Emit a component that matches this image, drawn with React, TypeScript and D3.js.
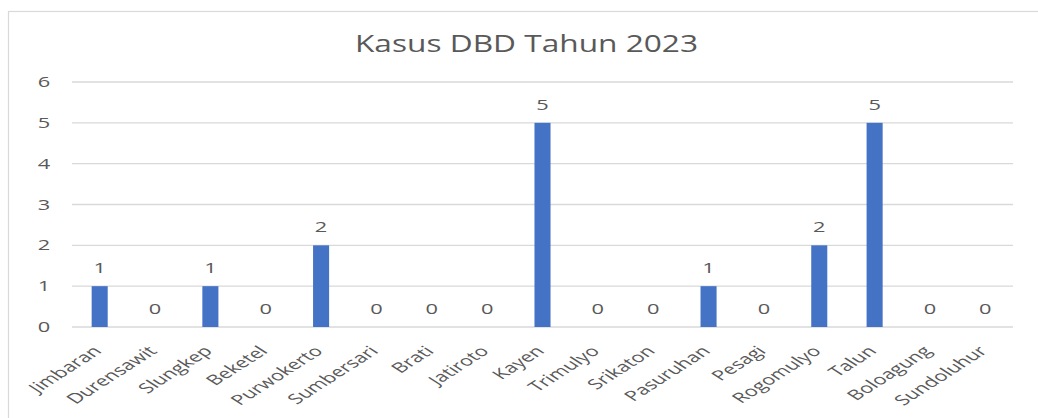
import React from "react";
import * as d3 from "d3";

const categories = ["Jimbaran","Durensawit","Slungkep","Beketel","Purwokerto","Sumbersari","Brati","Jatiroto","Kayen","Trimulyo","Srikaton","Pasuruhan","Pesagi","Rogomulyo","Talun","Boloagung","Sundoluhur"];
const values = [1,0,1,0,2,0,0,0,5,0,0,1,0,2,5,0,0];
const yTicks = [0,1,2,3,4,5,6];
const title = "Kasus DBD Tahun 2023";

export default function App() {
  const W = 1038, H = 418;
  const left = 72, right = 1013, top = 82, bottom = 327;
  const sx = 1.56;
  const fs = 14;
  const x = d3.scaleBand<string>().domain(categories).range([left, right]).paddingInner(0.71).paddingOuter(0.355);
  const y = d3.scaleLinear().domain([0, 6]).range([bottom, top]);
  const font = "'Open Sans', 'Noto Sans', sans-serif";
  const txt = "#595959";
  return (
    <svg width={W} height={H} style={{ position: "absolute", left: 0, top: 0 }} fontFamily={font}>
      <rect x={0} y={0} width={W} height={H} fill="#fff" />
      <rect x={8.5} y={11.5} width={W + 10} height={H + 10} fill="#fff" stroke="#d9d9d9" strokeWidth={1.2} />
      <text x={355} y={52} fontSize={23.5} fill={txt} textLength={343} lengthAdjust="spacingAndGlyphs">{title}</text>
      {yTicks.map(t => (
        <g key={t}>
          <line x1={left} x2={right} y1={y(t)} y2={y(t)} stroke="#d9d9d9" strokeWidth={1.4} />
          <text transform={`translate(44,${y(t)}) scale(${sx},1)`} dy="0.36em" textAnchor="middle" fontSize={fs} fill={txt}>{t}</text>
        </g>
      ))}
      {categories.map((c, i) => {
        const cx = x(c)! + x.bandwidth() / 2;
        return (
          <g key={c}>
            {values[i] > 0 && (
              <rect x={x(c)} y={y(values[i])} width={x.bandwidth()} height={y(0) - y(values[i])} fill="#4472C4" />
            )}
            <text transform={`translate(${cx},${y(values[i]) - 13}) scale(${sx},1)`} textAnchor="middle" fontSize={fs} fill={txt}>{values[i]}</text>
            <text transform={`translate(${cx + 3},${bottom + 25}) scale(${sx},1) rotate(-45)`} textAnchor="end" fontSize={fs} fill={txt}>{c}</text>
          </g>
        );
      })}
    </svg>
  );
}
